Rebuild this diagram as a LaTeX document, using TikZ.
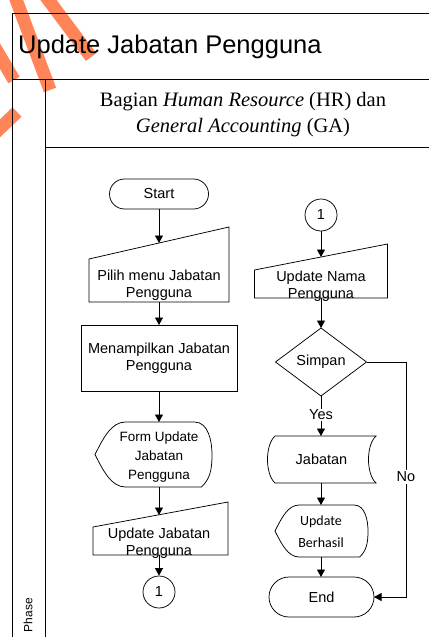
\documentclass[tikz,border=0pt]{standalone}
\usepackage{fontspec}
\setmainfont{Liberation Serif}
\newfontfamily\arialf{Liberation Sans}
\newfontfamily\carlitof{Carlito}
\usetikzlibrary{arrows.meta,calc}

\definecolor{wmorange}{RGB}{255,112,60}

% display (curved screen) outline: left, top, right, bottom
\newcommand{\displayoutline}[4]{%
  \pgfmathsetmacro\shpW{#3-#1}%
  \pgfmathsetmacro\shpH{#4-#2}%
  \pgfmathsetmacro\shpM{(#2+#4)/2}%
  \draw[outline] (#1,\shpM)
    .. controls ({#1+0.07*\shpW},{#2+0.25*\shpH}) and ({#1+0.14*\shpW},#2) .. ({#1+0.26*\shpW},#2)
    -- ({#3-0.15*\shpW},#2)
    .. controls ({#3-0.03*\shpW},#2) and (#3,{#2+0.3*\shpH}) .. (#3,\shpM)
    .. controls (#3,{#4-0.25*\shpH}) and ({#3-0.02*\shpW},{#4-0.12*\shpH}) .. ({#3-0.09*\shpW},#4)
    -- ({#1+0.26*\shpW},#4)
    .. controls ({#1+0.14*\shpW},#4) and ({#1+0.07*\shpW},{#4-0.25*\shpH}) .. (#1,\shpM);}

\begin{document}
\begin{tikzpicture}[x=1pt,y=-1pt,
  frameline/.style={line width=0.9pt},
  outline/.style={line width=0.75pt},
  flow/.style={line width=0.75pt,-{Triangle[length=7.5pt,width=8pt]}},
  holder/.style n args={2}{minimum width=#1,minimum height=#2,inner sep=0pt,outer sep=0pt},
  txt/.style={font=\arialf\fontsize{14.5}{17}\selectfont,align=center,inner sep=0pt},
  smalltxt/.style={font=\arialf\fontsize{13.5}{19}\selectfont,align=center,inner sep=0pt},
  calitxt/.style={font=\carlitof\fontsize{14}{22}\selectfont,align=center,inner sep=0pt},
  wm/.style={line width=13pt,color=wmorange,opacity=0.85},
]
\useasboundingbox (0,0) rectangle (429,637);

% watermark strokes
\draw[wm] (14,-6) -- (50,90);
\draw[wm] (44,-6) -- (91,57);
\draw[wm] (-6,46) -- (14,80);
\draw[wm] (-6,134) -- (17,112);

% swimlane frame
\draw[frameline] (429,13) -- (12,13) -- (12,637);
\draw[frameline] (12,79) -- (429,79);
\draw[frameline] (45,79) -- (45,637);
\draw[frameline] (45,147) -- (429,147);

\node[font=\arialf\fontsize{25.5}{30}\selectfont,anchor=base west,inner sep=0pt] (title) at (18,53) {Update Jabatan Pengguna};
\node[font=\fontsize{20.5}{26}\selectfont,anchor=base,inner sep=0pt] (hdr1) at (243,106) {Bagian \textit{Human Resource} (HR) dan};
\node[font=\fontsize{20.5}{26}\selectfont,anchor=base,inner sep=0pt] (hdr2) at (243,132) {\textit{General Accounting} (GA)};
\node[font=\arialf\fontsize{12}{14}\selectfont,rotate=90,inner sep=0pt] (phase) at (28,615) {Phase};

% ---- left column ----
\node[holder={99pt}{30pt},draw,outline,rounded corners=15pt,txt] (start) at (159,194) {Start};

\node[holder={140pt}{75pt}] (pilih) at (159,264.5) {};
\draw[outline] ([yshift=-32pt]pilih.north west) -- (pilih.north east) -- (pilih.south east) -- (pilih.south west) -- cycle;
\coordinate (pilih-in) at ([yshift=-16pt]pilih.north);
\node[txt] (pilih-t) at (159,285) {Pilih menu Jabatan\\Pengguna};

\node[holder={156pt}{66pt},draw,outline,txt] (tampil) at (159,358) {Menampilkan Jabatan\\Pengguna};

\node[holder={117pt}{65pt}] (form) at (153.5,454.5) {};
\displayoutline{95}{422}{212}{487}
\node[smalltxt] (form-t) at (159,457) {Form Update\\Jabatan\\Pengguna};

\node[holder={135pt}{53pt}] (updj) at (160.5,528.5) {};
\draw[outline] ([yshift=-25pt]updj.north west) -- (updj.north east) -- (updj.south east) -- (updj.south west) -- cycle;
\coordinate (updj-in) at (159,515);
\node[txt] (updj-t) at (159,543) {Update Jabatan\\Pengguna};

\node[circle,draw,outline,minimum size=32pt,txt] (c1) at (159,592) {1};

\draw[flow] (start.south) -- (pilih-in);
\draw[flow] (pilih.south -| start.south) -- (tampil.north);
\draw[flow] (tampil.south) -- (tampil.south |- form.north);
\draw[flow] (tampil.south |- form.south) -- (updj-in);
\draw[flow] (updj.south -| c1.north) -- (c1.north);

% ---- right column ----
\node[circle,draw,outline,minimum size=32pt,txt] (c2) at (321,215) {1};

\node[holder={133pt}{54pt}] (updn) at (321,271) {};
\draw[outline] ([yshift=-26pt]updn.north west) -- (updn.north east) -- (updn.south east) -- (updn.south west) -- cycle;
\coordinate (updn-in) at ([yshift=-13pt]updn.north);
\node[txt] (updn-t) at (321,286) {Update Nama\\Pengguna};

\node[holder={91pt}{68pt},txt] (simpan) at (321,362) {Simpan};
\draw[outline] (simpan.north) -- (simpan.east) -- (simpan.south) -- (simpan.west) -- cycle;

\node[holder={109pt}{47pt},txt] (jab) at (321.5,459.5) {Jabatan};
\draw[outline] ([xshift=8pt]jab.north west) -- (jab.north east)
  .. controls ([xshift=-10pt,yshift=-9pt]jab.north east) and ([xshift=-10pt,yshift=9pt]jab.south east) .. (jab.south east)
  -- ([xshift=8pt]jab.south west)
  .. controls ([xshift=-2pt,yshift=9pt]jab.south west) and ([xshift=-2pt,yshift=-9pt]jab.north west) .. ([xshift=8pt]jab.north west);

\node[holder={93pt}{52pt}] (ber) at (321.5,531) {};
\displayoutline{275}{505}{368}{557}
\node[calitxt] (ber-t) at (321,532) {Update\\Berhasil};

\node[holder={105pt}{40pt},draw,outline,rounded corners=20pt,txt] (end) at (321.5,597) {End};

\draw[flow] (c2.south) -- (updn-in);
\draw[flow] (updn.south) -- (simpan.north);
\draw[flow] (simpan.south) -- (simpan.south |- jab.north);
\node[txt,fill=white,inner sep=1pt] (yes) at (321,415) {Yes};
\draw[flow] (simpan.south |- jab.south) -- (simpan.south |- ber.north);
\draw[flow] (simpan.south |- ber.south) -- (simpan.south |- end.north);
\coordinate (noturn) at (406,362);
\draw[flow] (simpan.east) -- (noturn) |- (end.east);
\node[txt,fill=white,inner sep=1.5pt] (no) at (406,477) {No};
\end{tikzpicture}
\end{document}
